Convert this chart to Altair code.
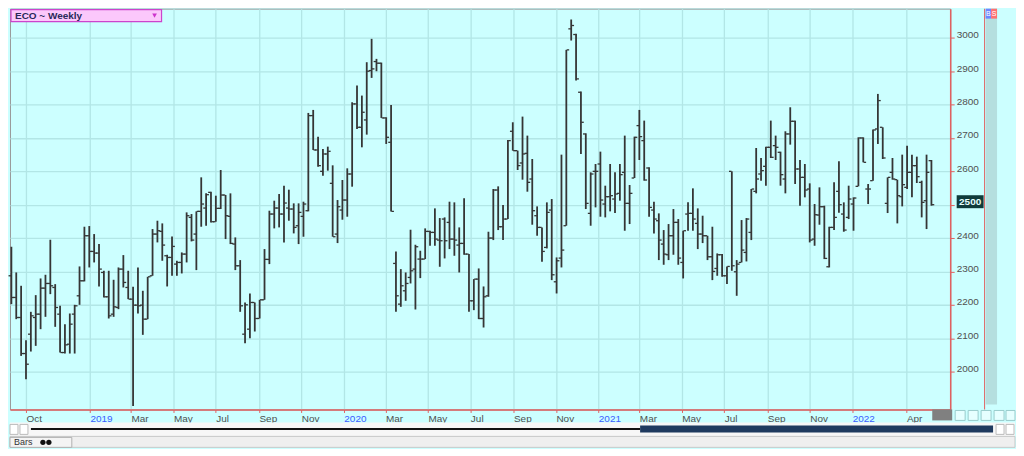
import altair as alt
import pandas as pd

# ---------------- data (weekly OHLC) ----------------
first_week = "2018-09-10"

high = [2374, 2297, 2257, 2094, 2179, 2229, 2279, 2290, 2395, 2262,
        2197, 2142, 2174, 2200, 2315, 2434, 2436, 2412, 2382, 2302,
        2302, 2275, 2312, 2349, 2302, 2254, 2312, 2242, 2284, 2427,
        2452, 2444, 2350, 2405, 2332, 2357, 2477, 2472, 2480, 2582,
        2534, 2539, 2527, 2604, 2529, 2534, 2402, 2334, 2207, 2234,
        2207, 2215, 2367, 2482, 2512, 2532, 2557, 2545, 2504, 2504,
        2509, 2775, 2784, 2704, 2667, 2674, 2618, 2514, 2574, 2609,
        2807, 2857, 2827, 2927, 2997, 2937, 2926, 2762, 2799, 2360,
        2307, 2297, 2425, 2380, 2362, 2429, 2422, 2489, 2460, 2462,
        2509, 2507, 2432, 2519, 2352, 2277, 2309, 2255, 2419, 2547,
        2555, 2499, 2694, 2747, 2662, 2764, 2707, 2637, 2495, 2432,
        2507, 2517, 2342, 2650, 2964, 3055, 3012, 2839, 2714, 2597,
        2622, 2659, 2557, 2622, 2597, 2622, 2707, 2559, 2704, 2784,
        2752, 2612, 2509, 2474, 2424, 2442, 2487, 2457, 2422, 2507,
        2549, 2489, 2467, 2407, 2434, 2354, 2352, 2315, 2600, 2334,
        2454, 2460, 2547, 2670, 2640, 2674, 2752, 2707, 2659, 2720,
        2792, 2752, 2634, 2622, 2564, 2502, 2552, 2497, 2434, 2567,
        2630, 2507, 2557, 2522, 2702, 2702, 2562, 2725, 2832, 2732,
        2582, 2640, 2575, 2650, 2677, 2650, 2644, 2572, 2650, 2634]

low = [2202, 2157, 2047, 1977, 2060, 2077, 2127, 2164, 2232, 2134,
       2057, 2054, 2054, 2054, 2200, 2270, 2312, 2327, 2255, 2222,
       2159, 2164, 2187, 2252, 2217, 1897, 2174, 2110, 2157, 2287,
       2387, 2332, 2255, 2287, 2287, 2294, 2327, 2390, 2304, 2434,
       2437, 2447, 2449, 2487, 2397, 2382, 2304, 2179, 2085, 2100,
       2120, 2159, 2215, 2322, 2429, 2432, 2387, 2452, 2414, 2382,
       2404, 2480, 2664, 2614, 2587, 2602, 2404, 2385, 2455, 2464,
       2554, 2727, 2672, 2710, 2880, 2900, 2760, 2682, 2480, 2179,
       2194, 2212, 2264, 2186, 2280, 2337, 2377, 2377, 2314, 2339,
       2367, 2347, 2297, 2350, 2179, 2184, 2157, 2132, 2224, 2394,
       2424, 2394, 2457, 2662, 2604, 2575, 2539, 2440, 2407, 2329,
       2369, 2274, 2234, 2312, 2437, 2992, 2872, 2652, 2487, 2437,
       2492, 2464, 2462, 2480, 2475, 2512, 2422, 2442, 2580, 2634,
       2572, 2464, 2414, 2334, 2320, 2334, 2350, 2320, 2279, 2422,
       2422, 2367, 2385, 2334, 2274, 2287, 2284, 2262, 2302, 2227,
       2327, 2330, 2394, 2534, 2572, 2557, 2640, 2634, 2557, 2534,
       2680, 2562, 2497, 2522, 2387, 2377, 2440, 2337, 2312, 2424,
       2476, 2419, 2457, 2422, 2555, 2627, 2502, 2572, 2682, 2637,
       2475, 2575, 2444, 2495, 2547, 2522, 2565, 2462, 2427, 2497]

open_ = [2287, 2222, 2162, 2054, 2112, 2162, 2172, 2250, 2264, 2252,
         2172, 2057, 2082, 2172, 2227, 2272, 2407, 2360, 2355, 2297,
         2224, 2172, 2192, 2307, 2252, 2217, 2199, 2199, 2157, 2287,
         2412, 2420, 2347, 2342, 2322, 2327, 2352, 2462, 2412, 2480,
         2490, 2537, 2449, 2489, 2529, 2465, 2382, 2317, 2112, 2127,
         2207, 2159, 2215, 2336, 2472, 2490, 2472, 2490, 2487, 2437,
         2465, 2482, 2767, 2664, 2600, 2652, 2564, 2412, 2484, 2514,
         2592, 2802, 2732, 2754, 2902, 2929, 2924, 2760, 2687, 2324,
         2202, 2242, 2282, 2307, 2337, 2337, 2420, 2417, 2394, 2457,
         2447, 2397, 2379, 2384, 2352, 2212, 2277, 2159, 2227, 2400,
         2544, 2434, 2457, 2720, 2662, 2625, 2654, 2577, 2467, 2432,
         2372, 2484, 2269, 2340, 2437, 3027, 3010, 2837, 2712, 2474,
         2600, 2622, 2502, 2524, 2517, 2534, 2597, 2504, 2580, 2737,
         2692, 2610, 2484, 2452, 2382, 2350, 2407, 2447, 2327, 2472,
         2474, 2444, 2412, 2407, 2344, 2309, 2350, 2287, 2600, 2299,
         2327, 2357, 2417, 2540, 2592, 2615, 2672, 2677, 2657, 2577,
         2712, 2750, 2607, 2582, 2547, 2397, 2469, 2494, 2314, 2432,
         2540, 2472, 2462, 2502, 2555, 2700, 2547, 2572, 2727, 2732,
         2504, 2597, 2575, 2524, 2552, 2597, 2617, 2567, 2512, 2632]

close = [2222, 2162, 2054, 2022, 2167, 2172, 2250, 2264, 2257, 2192,
         2057, 2080, 2142, 2197, 2272, 2407, 2360, 2355, 2307, 2224,
         2167, 2194, 2307, 2267, 2217, 2199, 2197, 2157, 2284, 2412,
         2422, 2379, 2342, 2375, 2327, 2352, 2467, 2394, 2480, 2502,
         2530, 2449, 2489, 2529, 2467, 2384, 2317, 2197, 2200, 2207,
         2159, 2215, 2336, 2472, 2490, 2472, 2505, 2487, 2432, 2477,
         2502, 2767, 2664, 2617, 2652, 2660, 2404, 2494, 2514, 2592,
         2802, 2732, 2777, 2900, 2907, 2924, 2760, 2702, 2480, 2227,
         2257, 2264, 2302, 2374, 2337, 2420, 2417, 2397, 2392, 2392,
         2397, 2394, 2384, 2352, 2212, 2277, 2159, 2224, 2400, 2544,
         2434, 2457, 2692, 2662, 2617, 2652, 2567, 2482, 2432, 2360,
         2477, 2290, 2332, 2364, 2964, 3037, 2877, 2747, 2504, 2592,
         2600, 2514, 2524, 2527, 2532, 2590, 2504, 2534, 2702, 2704,
         2574, 2492, 2457, 2394, 2352, 2407, 2447, 2340, 2422, 2474,
         2457, 2412, 2407, 2344, 2300, 2350, 2287, 2315, 2317, 2322,
         2364, 2457, 2547, 2577, 2602, 2672, 2642, 2672, 2590, 2712,
         2750, 2607, 2582, 2544, 2394, 2470, 2494, 2339, 2432, 2462,
         2500, 2424, 2517, 2520, 2700, 2627, 2547, 2724, 2812, 2640,
         2582, 2577, 2527, 2560, 2597, 2617, 2584, 2507, 2597, 2500]

tick_dates = ["2018-10-01", "2019-01-01", "2019-03-01", "2019-05-01", "2019-07-01",
              "2019-09-01", "2019-11-01", "2020-01-01", "2020-03-01", "2020-05-01",
              "2020-07-01", "2020-09-01", "2020-11-01", "2021-01-01", "2021-03-01",
              "2021-05-01", "2021-07-01", "2021-09-01", "2021-11-01", "2022-01-01",
              "2022-03-20"]
tick_labels = ["Oct", "2019", "Mar", "May", "Jul", "Sep", "Nov", "2020", "Mar", "May",
               "Jul", "Sep", "Nov", "2021", "Mar", "May", "Jul", "Sep", "Nov", "2022",
               "Apr"]
price_ticks = [2000, 2100, 2200, 2300, 2400, 2500, 2600, 2700, 2800, 2900, 3000]
title_text = "ECO ~ Weekly"

df = pd.DataFrame({
    "date": pd.date_range(first_week, periods=len(high), freq="7D"),
    "open": open_, "high": high, "low": low, "close": close,
})

# ---------------- styling ----------------
W, H = 943, 402
BG = "#ccffff"
GRID = "#b2e6e6"
RED = "#e06060"
BAR = "#353535"
FONT = "Liberation Sans"


def dt(s):
    y, m, d = map(int, s.split("-"))
    return alt.DateTime(year=y, month=m, date=d)


label_expr = ""
for d, l in zip(tick_dates, tick_labels):
    label_expr += f"timeFormat(datum.value, '%Y-%m-%d') == '{d}' ? '{l}' : "
label_expr += "''"

xaxis = alt.Axis(values=[dt(d) for d in tick_dates], labelExpr=label_expr,
                 labelColor={"expr": "month(datum.value) == 0 ? '#3b5bff' : '#505050'"},
                 labelAlign="left", labelBaseline="top", labelPadding=1,
                 labelFont=FONT, labelFontSize=10, labelOverlap=False, labelFlush=False,
                 tickColor=RED, tickSize=3, domainColor=RED, domainWidth=1.5,
                 grid=True, gridColor=GRID, gridWidth=1.3, title=None)
xscale = alt.Scale(domain=[dt("2018-09-08"), dt("2022-05-22")])
xenc = alt.X("date:T", scale=xscale, axis=xaxis)

last_close = close[-1]
yscale = alt.Scale(domain=[1886.4, 3087.5], nice=False, zero=False)
yaxis = alt.Axis(orient="right", values=price_ticks, format="d",
                 labelExpr=f"datum.value == {last_close} ? '' : datum.label",
                 labelAlign="left", labelBaseline="middle", labelPadding=2, labelOffset=-3,
                 labelFont=FONT, labelFontSize=10, labelColor="#505050",
                 tickSize=4, tickColor=RED, domainColor=RED, domainWidth=1.5,
                 grid=True, gridColor=GRID, gridWidth=1.3, title=None)


def Y(field):
    return alt.Y(f"{field}:Q", scale=yscale, axis=yaxis)


base = alt.Chart(df).encode(x=xenc)
hl = base.mark_rule(color=BAR, strokeWidth=1.8).encode(y=Y("low"), y2="high:Q")
op = base.mark_tick(color=BAR, orient="horizontal", size=2.5, thickness=1.3,
                    xOffset=-1.6, opacity=1).encode(y=Y("open"))
cl = base.mark_tick(color=BAR, orient="horizontal", size=2.5, thickness=1.3,
                    xOffset=1.6, opacity=1).encode(y=Y("close"))

last = alt.Chart(df.tail(1))
last_box = last.mark_tick(orient="horizontal", size=27, thickness=13, color="#0f3b3b",
                          opacity=1, yOffset=-3).encode(x=alt.value(W + 20), y=Y("close"))
last_txt = last.mark_text(color="#e6ffff", fontSize=10, font=FONT, fontWeight="bold",
                          yOffset=-3).encode(x=alt.value(W + 20), y=Y("close"),
                                             text=alt.Text("close:Q", format="d"))

ONE = alt.Data(values=[{"a": 1}])


def rect(x, x2, y, y2, fill, stroke=None, sw=1.0):
    kw = dict(fill=fill, opacity=1)
    if stroke:
        kw.update(stroke=stroke, strokeWidth=sw)
    return alt.Chart(ONE).mark_rect(**kw).encode(
        x=alt.value(x), x2=alt.value(x2), y=alt.value(y), y2=alt.value(y2))


def label(x, y, txt, color, size=10, weight="normal", align="left"):
    return alt.Chart(ONE).mark_text(color=color, fontSize=size, font=FONT, fontWeight=weight,
                                    align=align, baseline="middle").encode(
        x=alt.value(x), y=alt.value(y), text=alt.value(txt))


deco = [
    # title box
    rect(1, 152, 1, 13, "#fbc8fb", "#cc44cc", 1.2),
    label(5, 7.5, title_text, "#2a2a5a", 10, "bold"),
    alt.Chart(ONE).mark_point(shape="triangle-down", filled=True, color="#cc33cc",
                              size=22, opacity=1).encode(x=alt.value(145), y=alt.value(7)),
    # right side column
    rect(977, 978, 0, H, RED),
    rect(978.5, 990, 2, 397, "#b5dfdf"),
    rect(978.5, 984, 0, 10, "#6f86ff"),
    rect(984, 990, 0, 10, "#ff7070"),
    label(981.2, 5, "B", "white", 7, "normal", "center"),
    label(987, 5, "S", "white", 7, "normal", "center"),
    # bottom-right controls
    rect(925, 945, 402, 413, "#808080"),
    rect(948, 958, 403, 413, "#e6ffff", "#99cccc", 1),
    rect(961, 971, 403, 413, "#e6ffff", "#99cccc", 1),
    rect(974, 984, 403, 413, "#e6ffff", "#99cccc", 1),
    rect(987, 997, 403, 413, "#e6ffff", "#99cccc", 1),
    rect(999, 1008, 403, 413, "#e6ffff", "#99cccc", 1),
    # scroll bar band
    rect(0, 1008, 415, 429, "#f7f7f7"),
    rect(0, 8, 417, 427, "#ffffff", "#bbbbbb", 1),
    rect(10, 18, 417, 427, "#ffffff", "#bbbbbb", 1),
    rect(21, 632, 420.5, 422.5, "#111111"),
    rect(632, 986, 418, 425, "#1f3a5f"),
    rect(989, 997, 417, 427, "#ffffff", "#bbbbbb", 1),
    rect(999, 1007, 417, 427, "#ffffff", "#bbbbbb", 1),
    # bottom tab strip
    rect(0, 1008, 429, 440, "#efefef", "#c8c8c8", 1),
    rect(0, 62, 430, 440, "#f4f4f4", "#b0b0b0", 1),
    label(4, 435, "Bars", "#333333", 9),
    alt.Chart(ONE).mark_point(shape="circle", filled=True, color="#111111", size=28,
                              opacity=1).encode(x=alt.value(33), y=alt.value(435)),
    alt.Chart(ONE).mark_point(shape="circle", filled=True, color="#111111", size=28,
                              opacity=1).encode(x=alt.value(39), y=alt.value(435)),
]

chart = alt.layer(hl, op, cl, last_box, last_txt, *deco).properties(
    width=W, height=H, padding=0, background=BG
).configure_view(stroke="#9a9a9a", strokeWidth=1)

chart.save("out.html", embed_options={"renderer": "svg", "actions": False})
